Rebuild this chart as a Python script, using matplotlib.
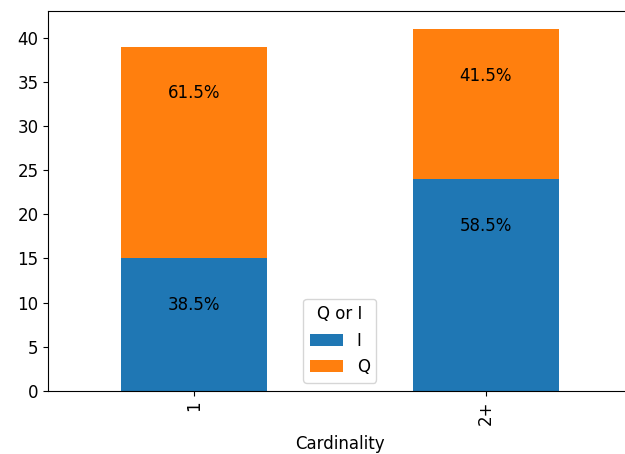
import matplotlib
matplotlib.use("Agg")
import matplotlib.pyplot as plt
import pandas as pd

categories = ["1", "2+"]
i_counts = [15, 24]
q_counts = [24, 17]

df = pd.DataFrame({"I": i_counts, "Q": q_counts}, index=categories)
df.index.name = "Cardinality"
df.columns.name = "Q or I"

fs = 12
fig, ax = plt.subplots(figsize=(6.25, 4.54), dpi=100)
df.plot(kind="bar", stacked=True, ax=ax)

totals = df.sum(axis=1)
for xi, cat in enumerate(df.index):
    top = 0
    for col in df.columns:
        top += df.loc[cat, col]
        pct = df.loc[cat, col] / totals[cat] * 100
        ax.text(xi, top - 5.3, "%.1f%%" % pct, ha="center", va="center", fontsize=fs)

ax.legend(title="Q or I", loc="lower center", fontsize=fs, title_fontsize=fs)
ax.tick_params(labelsize=fs)
ax.set_xlabel("Cardinality", fontsize=fs, labelpad=7)
# right edge of the axes sits just past the picture, as in the reference crop
fig.subplots_adjust(left=0.077, right=1.011, top=0.976, bottom=0.139)
fig.savefig("out.png")
